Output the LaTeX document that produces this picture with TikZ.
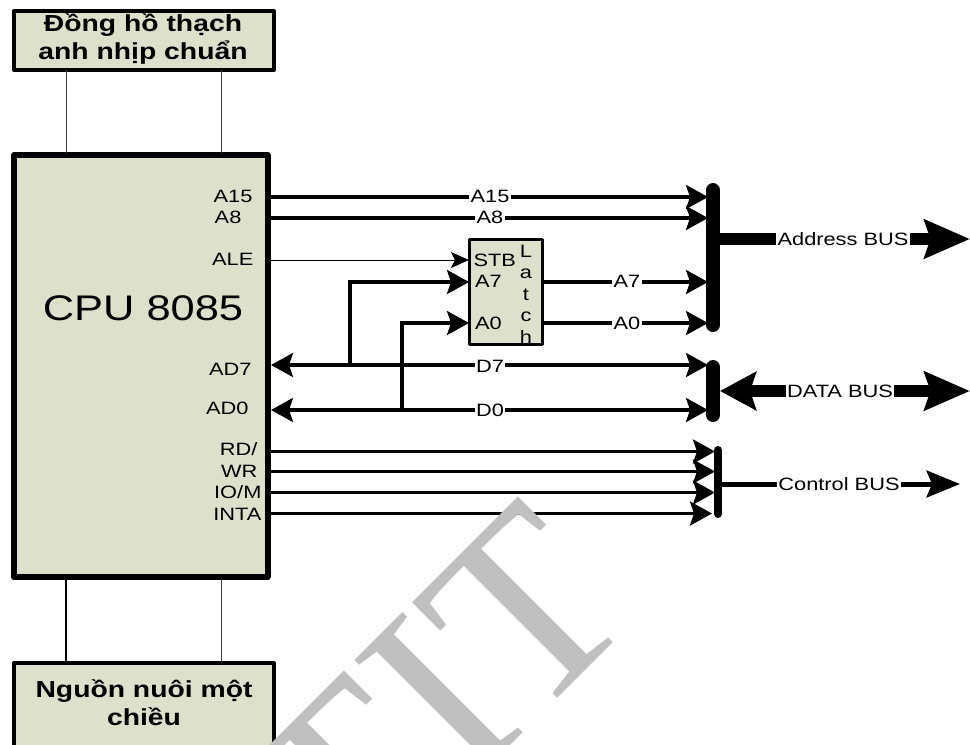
\documentclass[tikz,border=0pt]{standalone}
\usepackage{fontspec}
\setmainfont[FakeStretch=1.22]{Liberation Sans}
\newfontfamily\wmfont{Liberation Serif}
\usetikzlibrary{arrows.meta}
\definecolor{boxfill}{HTML}{DDE1CC}
\definecolor{wm}{HTML}{C0C0C0}
\tikzset{
  x=0.75pt,y=-0.75pt,
  box/.style={draw=black,fill=boxfill,line join=round,inner sep=0pt,outer sep=0pt,anchor=north west},
  tipa/.tip={Stealth[length=16.5pt,width=18pt,inset=3pt]},
  sig/.style={draw=black,line width=2.4pt,-tipa},
  sigb/.style={draw=black,line width=2.4pt,tipa-tipa},
  thin1/.style={draw=black!75,line width=0.6pt},
  bar/.style={draw=black,line cap=round},
  bustip/.tip={Stealth[length=34pt,width=28.5pt,inset=4.5pt]},
  bustipl/.tip={Stealth[length=27pt,width=28.5pt,inset=4.5pt]},
  bus/.style={draw=black,line width=9pt},
  lab/.style={font=\fontsize{13.4}{15}\selectfont,inner sep=1pt},
  llab/.style={lab,fill=white},
  pin/.style={lab,anchor=east},
  title/.style={font=\bfseries\fontsize{17.4}{21}\selectfont,align=center},
}
\begin{document}
\begin{tikzpicture}
\useasboundingbox (0,0) rectangle (970,744);
% boxes
\node[box,line width=3pt,minimum width=259.5*0.75pt,minimum height=59*0.75pt] (clk) at (14,11) {};
\node[title] (clktxt) at (143,39) {Đồng hồ thạch\\anh nhịp chuẩn};
\node[box,line width=4.5pt,minimum width=253.5*0.75pt,minimum height=422*0.75pt] (cpu) at (14,155) {};
\node[font=\fontsize{26.7}{30}\selectfont] (cputxt) at (143,308) {CPU 8085};
\node[box,line width=3pt,minimum width=259.5*0.75pt,minimum height=95*0.75pt] (pwr) at (14,663) {};
\node[title] (pwrtxt) at (144,703) {Nguồn nuôi một\\chiều};
\node[box,line width=2.25pt,minimum width=73*0.75pt,minimum height=105.2*0.75pt] (latch) at (469.5,239.3) {};
% top / bottom wires
\coordinate (c1) at (66,70); \coordinate (c2) at (66,153);
\coordinate (c3) at (221,70); \coordinate (c4) at (221,153);
\coordinate (p1) at (66,579); \coordinate (p2) at (66,662);
\coordinate (p3) at (221,579); \coordinate (p4) at (221,662);
\draw[thin1] (c1)--(c2); \draw[thin1] (c3)--(c4);
\draw[draw=black,line width=1.1pt] (p1)--(p2); \draw[thin1] (p3)--(p4);
% pin coordinates
\foreach \n/\y in {a15/197,a8/218,ale/260,ad7/365,ad0/410,rd/451.5,wr/471.5,io/492.5,inta/513.5}{
  \coordinate (\n) at (271,\y);
}
\coordinate (a15e) at (708,197); \coordinate (a8e) at (708,218);
\coordinate (a7s) at (543,282); \coordinate (a7e) at (708,282);
\coordinate (a0s) at (543,323); \coordinate (a0e) at (708,323);
\coordinate (d7e) at (708,365); \coordinate (d0e) at (708,410);
\coordinate (rde) at (715,451.5); \coordinate (wre) at (715,471.5);
\coordinate (ioe) at (715,492.5); \coordinate (intae) at (712,513.5);
\coordinate (stb) at (469,260); \coordinate (a7i) at (469,282); \coordinate (a0i) at (469,323);
\coordinate (j7) at (350,365); \coordinate (j0) at (402,410);
\coordinate (t7) at (350,282); \coordinate (t0) at (402,323);
% bus bars
\coordinate (ab1) at (713,190); \coordinate (ab2) at (713,325);
\coordinate (db1) at (713,367); \coordinate (db2) at (713,415);
\coordinate (cb1) at (718,450); \coordinate (cb2) at (718,514);
\draw[bar,line width=10.5pt] (ab1)--(ab2);
\draw[bar,line width=10.5pt] (db1)--(db2);
\draw[bar,line width=6pt] (cb1)--(cb2);
% signal lines
\draw[sig] (a15)--(a15e); \draw[sig] (a8)--(a8e);
\draw[sig] (a7s)--(a7e); \draw[sig] (a0s)--(a0e);
\draw[sigb] (ad7)--(d7e); \draw[sigb] (ad0)--(d0e);
\draw[sig] (rd)--(rde); \draw[sig] (wr)--(wre); \draw[sig] (io)--(ioe); \draw[sig] (inta)--(intae);
\draw[draw=black,line width=0.7pt,-{Stealth[length=13.5pt,width=12pt,inset=3pt]}] (ale)--(stb);
\draw[sig,line join=miter] (j7)--(t7)--(a7i);
\draw[sig,line join=miter] (j0)--(t0)--(a0i);
% line labels
\node[llab] (la15) at (490,196) {A15};
\node[llab] (la8) at (490,217) {A8};
\node[llab] (la7) at (627,281) {A7};
\node[llab] (la0) at (627,323) {A0};
\node[llab] (ld7) at (490,366) {D7};
\node[llab] (ld0) at (490,410) {D0};
% pin labels
\node[pin] (pa15) at (254,196) {A15};
\node[pin] (pa8) at (243,217) {A8};
\node[pin] (pale) at (255,259) {ALE};
\node[pin] (pad7) at (253,369) {AD7};
\node[pin] (pad0) at (250,408) {AD0};
\node[pin] (prd) at (259,449) {RD/};
\node[pin] (pwr2) at (259,471) {WR};
\node[pin] (pio) at (263,492) {IO/M};
\node[pin] (pinta) at (263,514) {INTA};
% latch labels
\node[lab,anchor=west] (lstb) at (472,260) {STB};
\node[lab,anchor=west] (la7i) at (473.5,281) {A7};
\node[lab,anchor=west] (la0i) at (473.5,323) {A0};
\foreach \c/\y in {L/257,a/278,t/300.5,c/321.5,h/343}{\node[lab,anchor=base] (lat\c) at (526,\y) {\c};}
% buses
\coordinate (abs) at (718,239); \coordinate (abe) at (970,239);
\draw[bus,-bustip] (abs)--(abe);
\node[lab,fill=white] (labus) at (843,239) {Address BUS};
\coordinate (dbs) at (720,391); \coordinate (dbe) at (970,391);
\draw[bus,bustipl-bustip] (dbs)--(dbe);
\node[lab,fill=white] (ldbus) at (840,391) {DATA BUS};
\coordinate (cbs) at (720,484); \coordinate (cbe) at (960,484);
\draw[draw=black,line width=3.75pt,-{Stealth[length=25pt,width=20pt,inset=4pt]}] (cbs)--(cbe);
\node[lab,fill=white] (lcbus) at (839,484) {Control BUS};
% watermark
\begin{scope}
\clip (0,0) rectangle (970,744);
\node[wm,rotate=45,anchor=base east,font=\wmfont\fontsize{195}{195}\selectfont,inner sep=0pt] (wmark) at (642,614) {TIT};
\end{scope}
\end{tikzpicture}
\end{document}
